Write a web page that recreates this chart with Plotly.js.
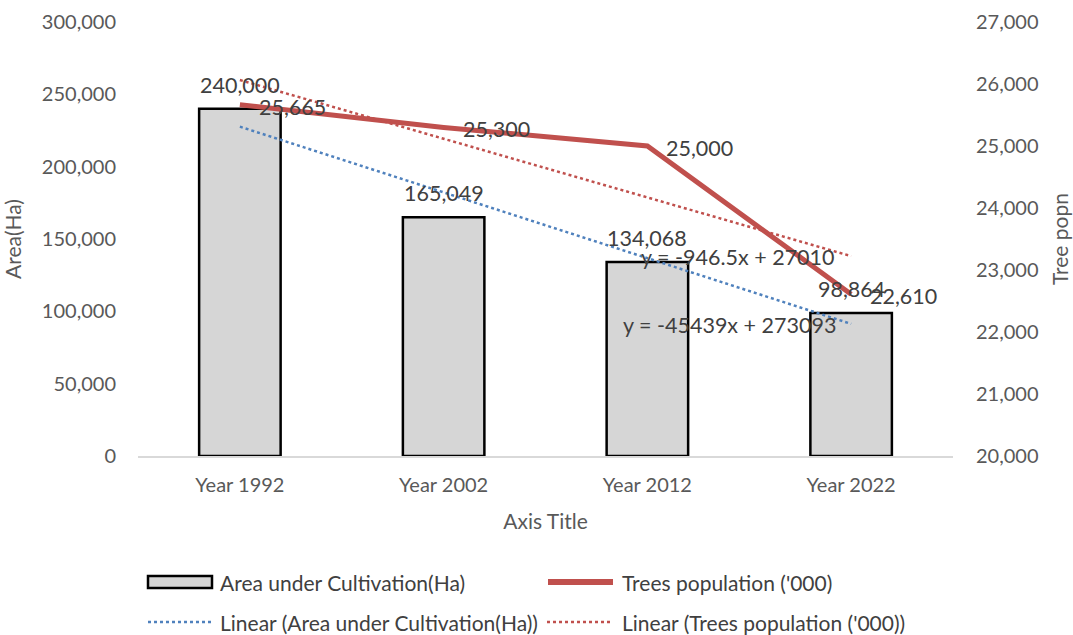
<!DOCTYPE html>
<html><head><meta charset="utf-8">
<script src="https://cdn.plot.ly/plotly-3.0.1.min.js"></script>
<style>html,body{margin:0;padding:0;background:#fff}#chart{width:1073px;height:635px}</style>
</head><body><div id="chart"></div>
<script>
// ---- data ----
const categories = ['Year 1992', 'Year 2002', 'Year 2012', 'Year 2022'];
const areaValues = [240000, 165049, 134068, 98864];
const treeValues = [25665, 25300, 25000, 22610];
const areaTrend = [227654, 182215, 136776, 91337];
const treeTrend = [26063.5, 25117, 24170.5, 23224];
const areaEquation = 'y = -45439x + 273093';
const treeEquation = 'y = -946.5x + 27010';
const areaName = 'Area under Cultivation(Ha)';
const treeName = "Trees population ('000)";
const areaTrendName = 'Linear (Area under Cultivation(Ha))';
const treeTrendName = "Linear (Trees population ('000))";

// ---- geometry ----
const W = 1073, H = 635, L = 138, R = 953, T = 22, B = 456;
const px = X => (X - L) / (R - L);
const py = Y => (B - Y) / (B - T);
const FONT = 'Lato, "Open Sans", sans-serif';
const RED = '#c0504d', BLUE = '#4f81bd';
const fmt = v => v.toLocaleString('en-US');

const traces = [
  { type: 'bar', x: categories, y: areaValues, name: areaName, width: 0.4,
    marker: { color: '#d6d6d6', line: { color: '#000', width: 2.5 } }, yaxis: 'y' },
  { type: 'scatter', mode: 'lines', x: categories, y: areaTrend, name: areaTrendName,
    line: { color: BLUE, width: 2.5, dash: 'dot' }, yaxis: 'y' },
  { type: 'scatter', mode: 'lines', x: categories, y: treeValues, name: treeName,
    line: { color: RED, width: 5 }, yaxis: 'y2' },
  { type: 'scatter', mode: 'lines', x: categories, y: treeTrend, name: treeTrendName,
    line: { color: RED, width: 2.5, dash: 'dot' }, yaxis: 'y2' }
];

const labFont = { family: FONT, size: 21.5, color: '#404040' };
const annotations = [];
areaValues.forEach((v, i) => annotations.push({
  x: categories[i], y: v, xref: 'x', yref: 'y', text: fmt(v), showarrow: false,
  xanchor: 'center', yanchor: 'middle', yshift: 24, font: labFont }));
treeValues.forEach((v, i) => annotations.push({
  x: categories[i], y: v, xref: 'x', yref: 'y2', text: fmt(v), showarrow: false,
  xanchor: 'left', xshift: 17, yanchor: 'middle', yshift: -2, font: labFont }));
annotations.push({ x: px(738), y: py(257), xref: 'paper', yref: 'paper', text: treeEquation,
  showarrow: false, xanchor: 'center', yanchor: 'middle', font: labFont });
annotations.push({ x: px(729), y: py(325), xref: 'paper', yref: 'paper', text: areaEquation,
  showarrow: false, xanchor: 'center', yanchor: 'middle', font: labFont });

// ---- legend (custom) ----
const legFont = { family: FONT, size: 21, color: '#404040' };
const shapes = [
  { type: 'rect', xref: 'paper', yref: 'paper', x0: px(148), x1: px(212), y0: py(588), y1: py(576),
    fillcolor: '#d6d6d6', line: { color: '#000', width: 2.5 } },
  { type: 'line', xref: 'paper', yref: 'paper', x0: px(548), x1: px(613), y0: py(582), y1: py(582),
    line: { color: RED, width: 6 } },
  { type: 'line', xref: 'paper', yref: 'paper', x0: px(148), x1: px(212), y0: py(622), y1: py(622),
    line: { color: BLUE, width: 2.5, dash: 'dot' } },
  { type: 'line', xref: 'paper', yref: 'paper', x0: px(547), x1: px(610), y0: py(622), y1: py(622),
    line: { color: RED, width: 2.5, dash: 'dot' } }
];
[[areaName, 218, 582], [treeName, 620, 582], [areaTrendName, 218, 622], [treeTrendName, 620, 622]]
  .forEach(([t, X, Y]) => annotations.push({ x: px(X), y: py(Y), xref: 'paper', yref: 'paper',
    text: t, showarrow: false, xanchor: 'left', yanchor: 'middle', font: legFont }));

const tickFont = { family: FONT, size: 20, color: '#595959' };
const titleFont = { family: FONT, size: 21, color: '#595959' };
const layout = {
  width: W, height: H,
  margin: { l: L, r: W - R, t: T, b: H - B },
  paper_bgcolor: '#fff', plot_bgcolor: '#fff',
  showlegend: false,
  bargap: 0.6,
  xaxis: { type: 'category', showgrid: false, zeroline: false, showline: true, linecolor: '#d9d9d9',
    linewidth: 1.5, ticks: '', tickfont: tickFont, ticklabelstandoff: 10,
    title: { text: 'Axis Title', font: titleFont, standoff: 20 } },
  yaxis: { range: [0, 300000], dtick: 50000, tickformat: ',d', showgrid: false, zeroline: false,
    showline: false, ticks: '', tickfont: tickFont, ticklabelstandoff: 21,
    title: { text: 'Area(Ha)', font: titleFont, standoff: 15 } },
  yaxis2: { overlaying: 'y', side: 'right', range: [20000, 27000], dtick: 1000, tickformat: ',d',
    showgrid: false, zeroline: false, showline: false, ticks: '', tickfont: tickFont,
    ticklabelstandoff: 22,
    title: { text: 'Tree popn', font: titleFont, standoff: 15 } },
  annotations: annotations,
  shapes: shapes
};
Plotly.newPlot('chart', traces, layout, { displayModeBar: false, staticPlot: true });
</script></body></html>
